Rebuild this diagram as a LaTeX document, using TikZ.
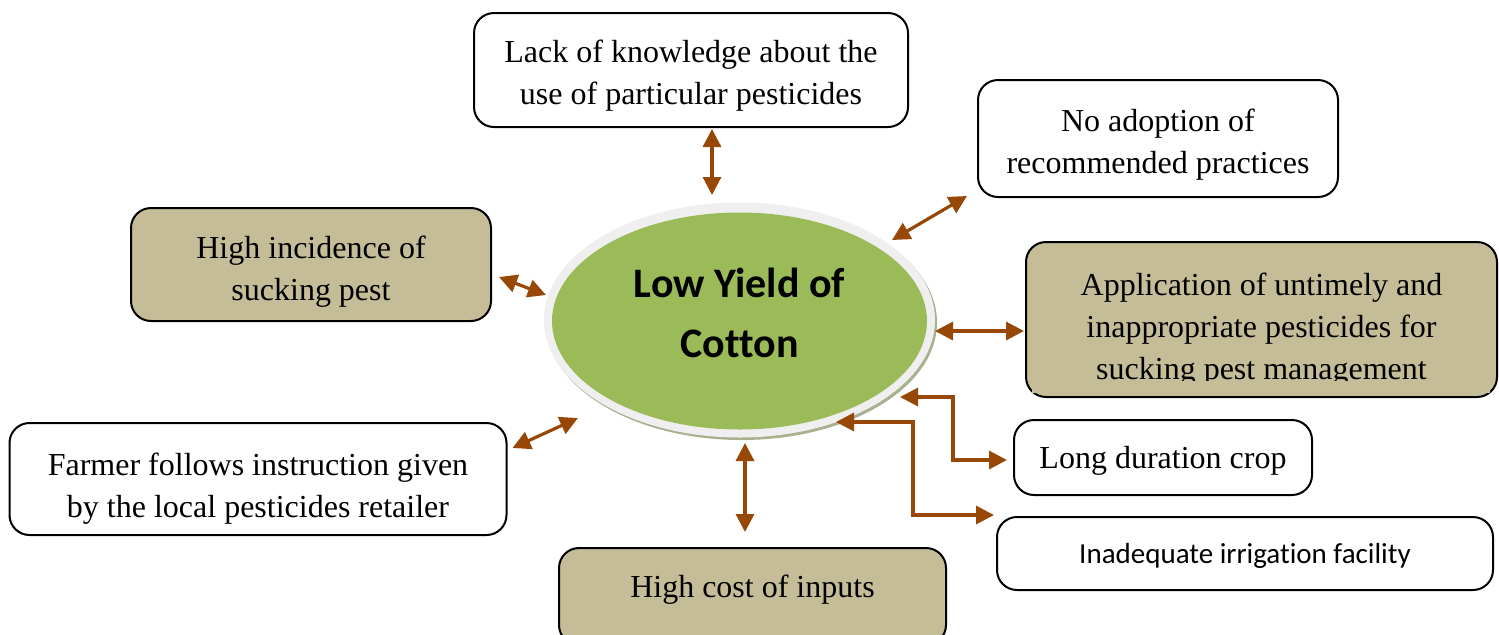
\documentclass[tikz,border=0pt]{standalone}
\usepackage{fontspec}
\setmainfont{Liberation Serif}
\newfontfamily\calib[RawFeature={-liga}]{Carlito}
\usetikzlibrary{shapes.geometric,arrows.meta,calc}
\definecolor{brn}{HTML}{974806}
\definecolor{boxtan}{HTML}{C4BD97}
\definecolor{leaf}{HTML}{9BBB59}
\definecolor{rimgray}{HTML}{EFEFEF}
\definecolor{rimshadow}{HTML}{A7B08F}
\newcommand{\dnstrut}[1]{\rule{0pt}{#1}}
\begin{document}
\begin{tikzpicture}[x=0.5pt,y=-0.5pt,
  box/.style={draw=black, line width=1pt, rounded corners=10pt, align=center, inner sep=0pt, font=\fontsize{16}{21}\selectfont},
  whitebox/.style={box, fill=white},
  tanbox/.style={box, fill=boxtan},
  arr/.style={draw=brn, line width=1.6pt, {Triangle[length=9pt,width=9pt]}-{Triangle[length=9pt,width=9pt]}},
]
\useasboundingbox (0,0) rectangle (1499,634);
\fill[white] (0,0) rectangle (1499,634);

% boxes
\node[whitebox, minimum width=217pt, minimum height=57pt] (lack) at (691,70) {\dnstrut{17pt}Lack of knowledge about the\\use of particular pesticides};
\node[whitebox, minimum width=180pt, minimum height=58.5pt] (adopt) at (1158,138.5) {\dnstrut{17pt}No adoption of\\recommended practices};
\node[tanbox, minimum width=180pt, minimum height=56.5pt] (incid) at (311,264.5) {\dnstrut{18pt}High incidence of\\sucking pest};
\node[tanbox, minimum width=235.5pt, minimum height=77.5pt] (appl) at (1261.5,319.5) {\dnstrut{21pt}Application of untimely and\\inappropriate pesticides for\\sucking pest management};
\fill[boxtan] (1032,381) rectangle (1490,393);
\node[whitebox, minimum width=149pt, minimum height=37.5pt] (longd) at (1163,457.5) {\dnstrut{14pt}Long duration crop};
\node[whitebox, minimum width=248pt, minimum height=36.5pt, font=\calib\fontsize{14.5}{18}\selectfont] (irrig) at (1245,553.5) {\dnstrut{12pt}Inadequate irrigation facility};
\node[whitebox, minimum width=248.5pt, minimum height=56pt] (farmer) at (258,479) {\dnstrut{21pt}Farmer follows instruction given\\by the local pesticides retailer};
\node[tanbox, minimum width=193.5pt, minimum height=48.5pt] (cost) at (752.5,596.5) {\raisebox{3.25pt}[\height][\depth]{High cost of inputs}};

% central ellipse
\fill[rimshadow] (741.5,322.5) ellipse [x radius=195.5, y radius=117.5];
\fill[rimgray] (739.5,320) ellipse [x radius=195.5, y radius=117.5];
\node[ellipse, fill=leaf, minimum width=187.5pt, minimum height=108.5pt, inner sep=0pt, align=center,
  font=\calib\bfseries\fontsize{21}{30}\selectfont] (core) at (739.5,321) {Low Yield of\\Cotton\rule[-8pt]{0pt}{8pt}};

% connectors
\draw[arr] ($(lack.south)+(21,1)$) -- ($(core)+(-27.5,-126)$);
\draw[arr] ($(adopt.south west)+(-10,-2)$) -- ($(core)+(152.5,-81)$);
\draw[arr] ($(incid.east)+(7,12.5)$) -- ($(core)+(-193.5,-26)$);
\draw[arr] ($(appl.west)+(-1,11.5)$) -- ($(core)+(195.5,10)$);
\draw[arr] ($(core)+(160.5,76)$) -- ++(53,0) |- ($(longd.west)+(-6,2.5)$);
\draw[arr] ($(core)+(96.5,101)$) -- ++(77,0) |- ($(irrig.west)+(-2,-38.5)$);
\draw[arr] ($(farmer.east)+(5,-31)$) -- ($(core)+(-161.5,97)$);
\draw[arr] ($(core)+(5.5,122)$) -- ($(cost.north)+(-7.5,-15)$);
\end{tikzpicture}
\end{document}
